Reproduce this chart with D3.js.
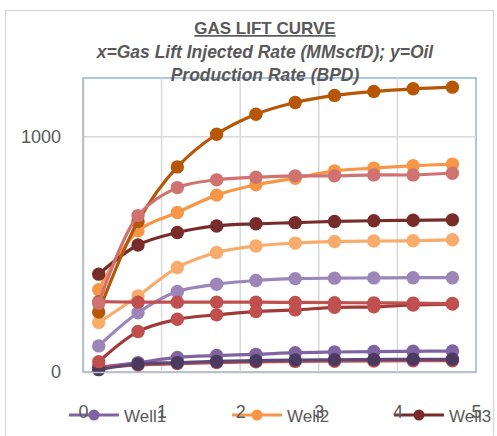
<!DOCTYPE html>
<html>
<head>
<meta charset="utf-8">
<script src="https://cdn.jsdelivr.net/npm/d3@7/dist/d3.min.js"></script>
<style>
  html, body { margin: 0; padding: 0; background: #fff; }
  svg { display: block; font-family: "Liberation Sans", Arial, sans-serif; }
</style>
</head>
<body>
<svg id="chart" width="497" height="436"></svg>
<script>
// Gas lift injection rate (MMscfD) for every well curve
const gasRate = [0.2, 0.7, 1.2, 1.7, 2.2, 2.7, 3.2, 3.7, 4.2, 4.7];

// Oil production rate (BPD) per well
const well1 = [20, 40, 62, 70, 75, 82, 85, 87, 88, 89];
const well2 = [350, 600, 678, 752, 796, 824, 855, 867, 877, 884];
const well3 = [416, 540, 593, 621, 630, 635, 640, 643, 645, 647];
const well4 = [20, 30, 36, 40, 43, 45, 46, 47, 48, 48];
const well5 = [10, 34, 40, 45, 48, 51, 52, 53, 54, 54];
const well6 = [44, 172, 224, 243, 257, 264, 275, 277, 285, 289];
const well7 = [111, 252, 342, 373, 389, 397, 399, 400, 401, 401];
const well8 = [210, 323, 444, 508, 536, 548, 555, 557, 558, 562];
const well9 = [299, 297, 297, 297, 297, 296, 295, 294, 293, 291];
const well10 = [255, 640, 872, 1011, 1096, 1146, 1176, 1193, 1204, 1211];
const well11 = [292, 665, 784, 817, 828, 834, 834, 838, 838, 845];

const xTicks = [0, 1, 2, 3, 4, 5];
const yTicks = [0, 1000];
const legendNames = ["Well1", "Well2", "Well3"];

const series = [
  { name: "Well1", values: well1, line: "#8064A2", dot: "#8064A2" },
  { name: "Well2", values: well2, line: "#F79646", dot: "#F79646" },
  { name: "Well3", values: well3, line: "#772C2A", dot: "#772C2A" },
  { name: "Well4", values: well4, line: "#C0504D", dot: "#C0504D" },
  { name: "Well5", values: well5, line: "#5C4776", dot: "#4B3A60" },
  { name: "Well6", values: well6, line: "#A03B39", dot: "#C0504D" },
  { name: "Well7", values: well7, line: "#9B85B9", dot: "#9B85B9" },
  { name: "Well8", values: well8, line: "#F9AB6B", dot: "#F9AB6B" },
  { name: "Well9", values: well9, line: "#C0504D", dot: "#C0504D" },
  { name: "Well10", values: well10, line: "#B65708", dot: "#B65708" },
  { name: "Well11", values: well11, line: "#CF7270", dot: "#CF7270" }
];

const svg = d3.select("#chart");

// outer chart frame
svg.append("rect")
  .attr("x", 5.5).attr("y", 10.5).attr("width", 488).attr("height", 440)
  .attr("fill", "#fff").attr("stroke", "#D9D9D9").attr("stroke-width", 1.5);

const plot = { left: 83, right: 476, top: 78, bottom: 372 };

const x = d3.scaleLinear().domain([0, 5]).range([plot.left, plot.right]);
const y = d3.scaleLinear().domain([0, 1250]).range([plot.bottom, plot.top]);

// plot area border
svg.append("rect")
  .attr("x", plot.left).attr("y", plot.top)
  .attr("width", plot.right - plot.left).attr("height", plot.bottom - plot.top)
  .attr("fill", "none").attr("stroke", "#8EB4E3").attr("stroke-width", 1.5);

// gridlines
svg.append("g")
  .selectAll("line.vg")
  .data(xTicks.filter(d => d > 0 && d < 5))
  .join("line")
  .attr("x1", d => x(d)).attr("x2", d => x(d))
  .attr("y1", plot.top).attr("y2", plot.bottom)
  .attr("stroke", "#D9D9D9").attr("stroke-width", 1.5);

svg.append("g")
  .selectAll("line.hg")
  .data(yTicks.filter(d => d > 0))
  .join("line")
  .attr("x1", plot.left).attr("x2", plot.right)
  .attr("y1", d => y(d)).attr("y2", d => y(d))
  .attr("stroke", "#D9D9D9").attr("stroke-width", 1.5);

// axes
const xAxis = svg.append("g")
  .attr("transform", `translate(0,${plot.bottom})`)
  .call(d3.axisBottom(x).tickValues(xTicks).tickSize(0).tickPadding(33).tickFormat(d3.format("d")));
const yAxis = svg.append("g")
  .attr("transform", `translate(${plot.left},0)`)
  .call(d3.axisLeft(y).tickValues(yTicks).tickSize(0).tickPadding(22).tickFormat(d3.format("d")));

[xAxis, yAxis].forEach(a => {
  a.select(".domain").attr("stroke", "#BFBFBF").attr("stroke-width", 1.5);
  a.selectAll("text")
    .attr("fill", "#595959")
    .style("font-size", "18px")
    .style("font-family", "'Liberation Sans', Arial, sans-serif");
});

// curves
const line = d3.line()
  .x((d, i) => x(gasRate[i]))
  .y(d => y(d))
  .curve(d3.curveCatmullRom.alpha(0.5));

const curves = svg.append("g");
series.forEach(s => {
  const g = curves.append("g");
  g.append("path")
    .attr("d", line(s.values))
    .attr("fill", "none")
    .attr("stroke", s.line)
    .attr("stroke-width", 3.2)
    .attr("stroke-linejoin", "round");
  g.selectAll("circle")
    .data(s.values)
    .join("circle")
    .attr("cx", (d, i) => x(gasRate[i]))
    .attr("cy", d => y(d))
    .attr("r", 6.7)
    .attr("fill", s.dot);
});

// title
svg.append("text")
  .attr("x", 265).attr("y", 34)
  .attr("text-anchor", "middle")
  .attr("fill", "#595959")
  .style("font-size", "17px").style("font-weight", "bold")
  .style("text-decoration", "underline")
  .text("GAS LIFT CURVE");

const sub = svg.append("text")
  .attr("text-anchor", "middle")
  .attr("fill", "#595959")
  .style("font-size", "17.5px").style("font-weight", "bold").style("font-style", "italic");
sub.append("tspan").attr("x", 265).attr("y", 58).text("x=Gas Lift Injected Rate (MMscfD); y=Oil");
sub.append("tspan").attr("x", 265).attr("y", 81).text("Production Rate (BPD)");

// legend
const legendX = [69, 232, 394];
const legend = svg.append("g");
legendNames.forEach((name, i) => {
  const s = series.find(d => d.name === name);
  const g = legend.append("g").attr("transform", `translate(${legendX[i]},415)`);
  g.append("line").attr("x1", 0).attr("x2", 50).attr("y1", 0).attr("y2", 0)
    .attr("stroke", s.line).attr("stroke-width", 3);
  g.append("circle").attr("cx", 25).attr("cy", 0).attr("r", 5.5).attr("fill", s.dot);
  g.append("text").attr("x", 55).attr("y", 7)
    .attr("fill", "#595959")
    .style("font-size", "17px")
    .text(name);
});

// x tick labels sit on top of the legend row
xAxis.raise();
</script>
</body>
</html>
